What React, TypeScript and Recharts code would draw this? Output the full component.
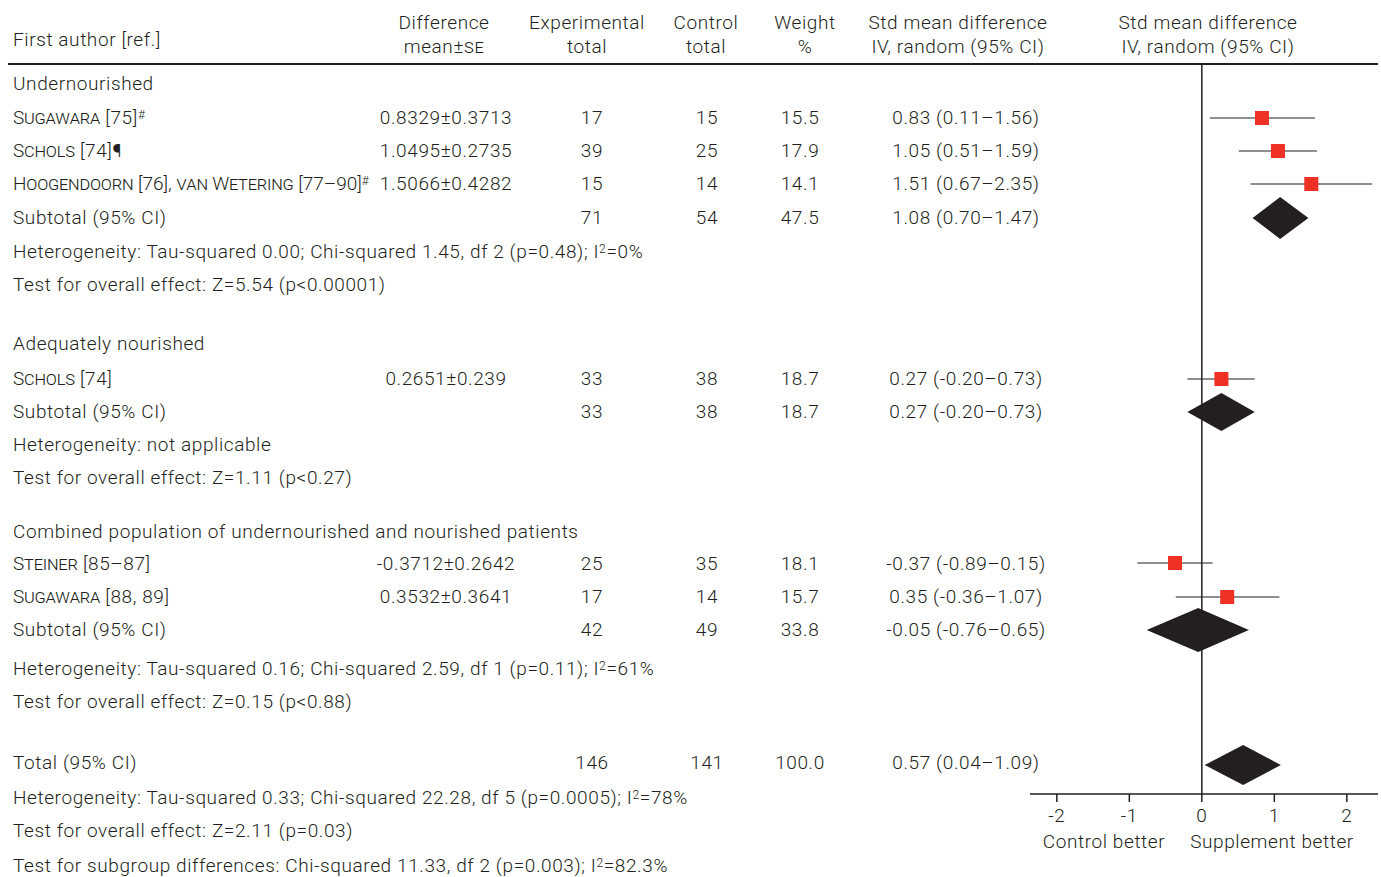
import React from 'react';
import { ScatterChart, Scatter, XAxis, YAxis, ReferenceLine } from 'recharts';

// rows: vertical position (px row centre), estimates
const studyNames = ['Sugawara75', 'Schols74a', 'Hoogendoorn', 'Schols74b', 'Steiner', 'Sugawara88'];
const studyRowY = [118, 151, 184, 379, 563, 597];
const studyEst = [0.83, 1.05, 1.51, 0.27, -0.37, 0.35];
const studyLo = [0.11, 0.51, 0.67, -0.2, -0.89, -0.36];
const studyHi = [1.56, 1.59, 2.35, 0.73, 0.15, 1.07];

const poolRowY = [218, 412, 630, 765];
const poolEst = [1.08, 0.27, -0.05, 0.57];
const poolLo = [0.7, -0.2, -0.76, 0.04];
const poolHi = [1.47, 0.73, 0.65, 1.09];
const poolHalfH = [21, 19, 22, 20];

const xTicks = [-2, -1, 0, 1, 2];

const W = 1381, H = 877;
const FONT = 'Roboto, "DejaVu Sans", sans-serif';
const COL = '#231f20';

const sc = (s: string) => <span style={{ fontVariant: 'small-caps', letterSpacing: '-0.2px' }}>{s}</span>;
const sup = (s: string) => <sup style={{ fontSize: 12, verticalAlign: 'top', lineHeight: '18px' }}>{s}</sup>;

type Row = { y: number; label: React.ReactNode; diff?: string; e?: string; c?: string; w?: string; ci?: string };
const rows: Row[] = [
  { y: 84, label: 'Undernourished' },
  { y: 118, label: <>{sc('Sugawara')} [75]{sup('#')}</>, diff: '0.8329±0.3713', e: '17', c: '15', w: '15.5', ci: '0.83 (0.11–1.56)' },
  { y: 151, label: <>{sc('Schols')} [74]¶</>, diff: '1.0495±0.2735', e: '39', c: '25', w: '17.9', ci: '1.05 (0.51–1.59)' },
  { y: 184, label: <span style={{ letterSpacing: 0 }}>{sc('Hoogendoorn')} [76], {sc('van Wetering')} [77–90]{sup('#')}</span>, diff: '1.5066±0.4282', e: '15', c: '14', w: '14.1', ci: '1.51 (0.67–2.35)' },
  { y: 218, label: 'Subtotal (95% CI)', e: '71', c: '54', w: '47.5', ci: '1.08 (0.70–1.47)' },
  { y: 252, label: <>Heterogeneity: Tau-squared 0.00; Chi-squared 1.45, df 2 (p=0.48); I{sup('2')}=0%</> },
  { y: 285, label: 'Test for overall effect: Z=5.54 (p<0.00001)' },
  { y: 344, label: 'Adequately nourished' },
  { y: 379, label: <>{sc('Schols')} [74]</>, diff: '0.2651±0.239', e: '33', c: '38', w: '18.7', ci: '0.27 (-0.20–0.73)' },
  { y: 412, label: 'Subtotal (95% CI)', e: '33', c: '38', w: '18.7', ci: '0.27 (-0.20–0.73)' },
  { y: 445, label: 'Heterogeneity: not applicable' },
  { y: 478, label: 'Test for overall effect: Z=1.11 (p<0.27)' },
  { y: 532, label: 'Combined population of undernourished and nourished patients' },
  { y: 564, label: <>{sc('Steiner')} [85–87]</>, diff: '-0.3712±0.2642', e: '25', c: '35', w: '18.1', ci: '-0.37 (-0.89–0.15)' },
  { y: 597, label: <>{sc('Sugawara')} [88, 89]</>, diff: '0.3532±0.3641', e: '17', c: '14', w: '15.7', ci: '0.35 (-0.36–1.07)' },
  { y: 630, label: 'Subtotal (95% CI)', e: '42', c: '49', w: '33.8', ci: '-0.05 (-0.76–0.65)' },
  { y: 669, label: <>Heterogeneity: Tau-squared 0.16; Chi-squared 2.59, df 1 (p=0.11); I{sup('2')}=61%</> },
  { y: 702, label: 'Test for overall effect: Z=0.15 (p<0.88)' },
  { y: 763, label: 'Total (95% CI)', e: '146', c: '141', w: '100.0', ci: '0.57 (0.04–1.09)' },
  { y: 798, label: <>Heterogeneity: Tau-squared 0.33; Chi-squared 22.28, df 5 (p=0.0005); I{sup('2')}=78%</> },
  { y: 831, label: 'Test for overall effect: Z=2.11 (p=0.03)' },
  { y: 866, label: <>Test for subgroup differences: Chi-squared 11.33, df 2 (p=0.003); I{sup('2')}=82.3%</> },
];

const txt = (x: number, y: number, content: React.ReactNode, align: 'left' | 'center' = 'center', key?: string) => (
  <div key={key} style={{ position: 'absolute', top: y - 12, left: align === 'left' ? x : x - 150, width: align === 'left' ? 900 : 300, textAlign: align, lineHeight: '24px', whiteSpace: 'nowrap' }}>{content}</div>
);

const Diamond = (props: any) => {
  const pts = props.points || [];
  if (pts.length < 4) return null;
  return <polygon points={pts.map((p: any) => `${p.x},${p.y}`).join(' ')} fill={COL} stroke="none" />;
};
const Square = (props: any) => <rect x={props.cx - 7} y={props.cy - 7} width={14} height={14} fill="#ee3124" />;

export default function App() {
  return (
    <div style={{ position: 'absolute', left: 0, top: 0, width: W, height: H, background: '#fff', fontFamily: FONT, fontSize: 19, letterSpacing: '0.6px', fontWeight: 300, color: COL, overflow: 'hidden' }}>
      {txt(13, 40, 'First author [ref.]', 'left')}
      {txt(444, 23, 'Difference')}
      {txt(444, 47, <>mean±<span style={{ fontVariant: 'small-caps' }}>se</span></>)}
      {txt(587, 23, 'Experimental')}
      {txt(587, 47, 'total')}
      {txt(706, 23, 'Control')}
      {txt(706, 47, 'total')}
      {txt(805, 23, 'Weight')}
      {txt(805, 47, '%')}
      {txt(958, 23, 'Std mean difference')}
      {txt(958, 47, 'IV, random (95% CI)')}
      {txt(1208, 23, 'Std mean difference')}
      {txt(1208, 47, 'IV, random (95% CI)')}
      <div style={{ position: 'absolute', left: 8, top: 63, width: 1370, height: 1.5, background: COL }} />
      {rows.map((r, i) => (
        <React.Fragment key={i}>
          {txt(13, r.y, r.label, 'left')}
          {r.diff && txt(446, r.y, r.diff)}
          {r.e && txt(592, r.y, r.e)}
          {r.c && txt(707, r.y, r.c)}
          {r.w && txt(800, r.y, r.w)}
          {r.ci && txt(966, r.y, r.ci)}
        </React.Fragment>
      ))}
      {txt(1104, 842, 'Control better')}
      {txt(1272, 842, 'Supplement better')}
      <div style={{ position: 'absolute', left: 0, top: 0 }}>
        <ScatterChart width={W} height={H} margin={{ left: 1030, right: 3, top: 65, bottom: 0 }}>
          <XAxis type="number" dataKey="x" domain={[-2.37, 2.43]} ticks={xTicks} allowDataOverflow
            axisLine={{ stroke: COL, strokeWidth: 1.5 }} tickLine={{ stroke: COL, strokeWidth: 1.5 }} tickSize={8}
            tick={{ fill: COL, fontSize: 19, fontFamily: FONT, fontWeight: 300, dy: 5 }} height={83} />
          <YAxis type="number" dataKey="y" domain={[65, 794]} reversed hide allowDataOverflow width={0} />
          <ReferenceLine x={0} stroke={COL} strokeWidth={1.5} />
          {studyNames.map((n, i) => (
            <Scatter key={'ci' + n} data={[{ x: studyLo[i], y: studyRowY[i] }, { x: studyHi[i], y: studyRowY[i] }]}
              line={{ stroke: COL, strokeWidth: 1.2 }} shape={() => null} isAnimationActive={false} />
          ))}
          <Scatter data={studyNames.map((n, i) => ({ x: studyEst[i], y: studyRowY[i], n }))} shape={Square} isAnimationActive={false} />
          {poolEst.map((e, i) => (
            <Scatter key={'d' + i}
              data={[
                { x: poolLo[i], y: poolRowY[i] },
                { x: e, y: poolRowY[i] - poolHalfH[i] },
                { x: poolHi[i], y: poolRowY[i] },
                { x: e, y: poolRowY[i] + poolHalfH[i] },
              ]}
              line={Diamond} shape={() => null} isAnimationActive={false} />
          ))}
        </ScatterChart>
      </div>
    </div>
  );
}
